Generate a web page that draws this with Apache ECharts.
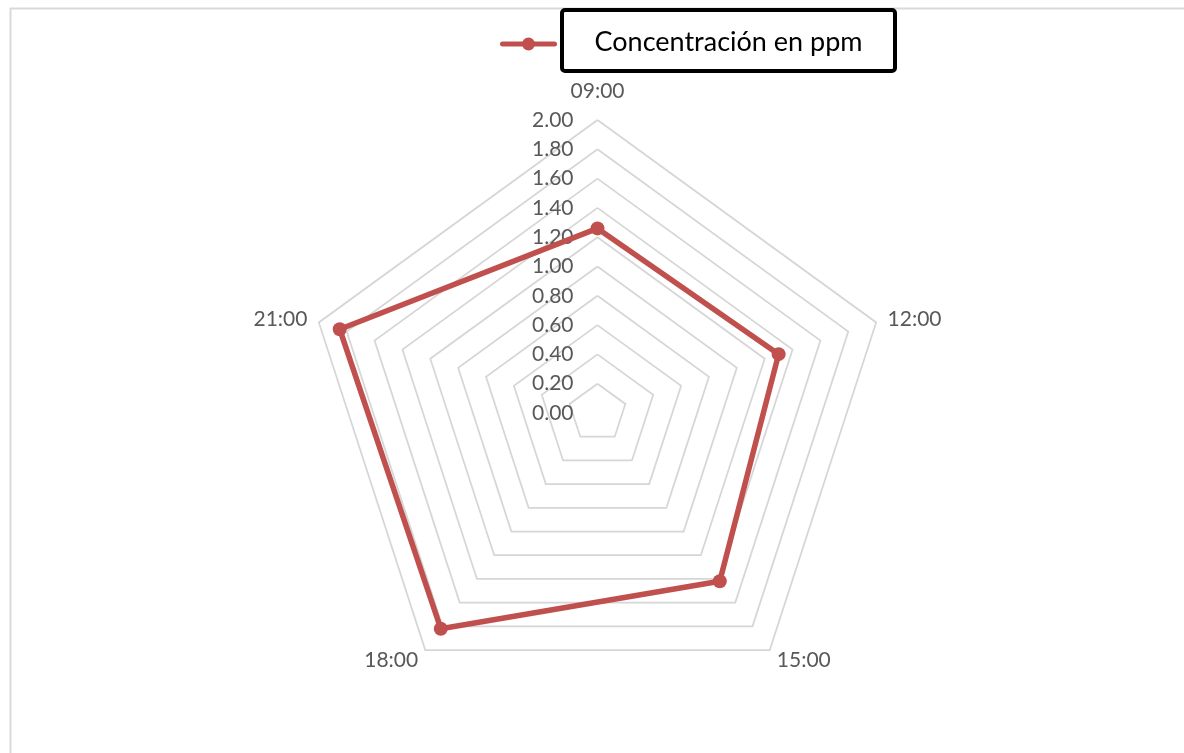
<!DOCTYPE html>
<html>
<head>
<meta charset="utf-8">
<script src="https://cdn.jsdelivr.net/npm/echarts@6/dist/echarts.min.js"></script>
<style>
  html, body { margin: 0; padding: 0; background: #ffffff; }
  #chart { width: 1184px; height: 753px; }
</style>
</head>
<body>
<div id="chart"></div>
<script>
// Hours of the day (clockwise from the top) and the measured concentration
const categories = ['09:00', '12:00', '15:00', '18:00', '21:00'];
const concentration = [1.26, 1.30, 1.42, 1.82, 1.85];
const seriesName = 'Concentración en ppm';

// Value scale shared by the radar rings and the tick labels
const axisMin = 0;
const axisMax = 2;
const axisStep = 0.2;

const FONT = 'Lato, "Open Sans", sans-serif';
const RED = '#c0504d';
const GREY_TEXT = '#595959';

// ECharts lays radar axes out counter-clockwise, so keep the first axis on top
// and walk the remaining ones backwards to get a clockwise dial.
const order = [0].concat(categories.map((_, i) => i).slice(1).reverse());
const indicators = order.map(i => ({ name: categories[i], min: axisMin, max: axisMax }));
const radarValues = order.map(i => concentration[i]);

const center = [597.5, 413];
const radius = 293;

// Legend key and framed caption, drawn as decoration at the top
const legendKeyY = 44;
const legendGraphic = {
  type: 'group',
  silent: true,
  children: [
    {
      type: 'line',
      shape: { x1: 502.5, y1: legendKeyY, x2: 554.5, y2: legendKeyY },
      style: { stroke: RED, lineWidth: 5, lineCap: 'round' }
    },
    {
      type: 'circle',
      shape: { cx: 528.5, cy: legendKeyY, r: 6.5 },
      style: { fill: RED }
    },
    {
      type: 'rect',
      shape: { x: 562, y: 10, width: 333, height: 61, r: 3 },
      style: { fill: '#ffffff', stroke: '#000000', lineWidth: 4 }
    },
    {
      type: 'text',
      x: 728.5, y: 42,
      style: {
        text: seriesName,
        fill: '#000000',
        font: '27px ' + FONT,
        align: 'center',
        verticalAlign: 'middle'
      }
    }
  ]
};

const chart = echarts.init(document.getElementById('chart'), null, { renderer: 'canvas' });

chart.setOption({
  backgroundColor: '#ffffff',
  animation: false,
  graphic: [
    {
      type: 'rect',
      left: 8, top: 6,
      shape: { width: 1200, height: 800 },
      style: { fill: 'none', stroke: '#d9d9d9', lineWidth: 2 },
      silent: true
    },
    legendGraphic
  ],
  radar: {
    center: center,
    radius: radius,
    startAngle: 90,
    shape: 'polygon',
    splitNumber: Math.round((axisMax - axisMin) / axisStep),
    indicator: indicators,
    nameGap: 12,
    axisName: {
      color: GREY_TEXT,
      fontFamily: FONT,
      fontSize: 21,
      verticalAlign: 'middle',
      formatter: function (name) {
        return name === categories[0] ? '{top|' + name + '}' : name;
      },
      rich: {
        top: {
          color: GREY_TEXT,
          fontFamily: FONT,
          fontSize: 21,
          padding: [0, 0, 34, 0]
        }
      }
    },
    axisLine: { show: false },
    axisTick: { show: false },
    axisLabel: { show: false },
    splitArea: { show: false },
    splitLine: { lineStyle: { color: '#d6d6d6', width: 1.75 } }
  },
  // Invisible vertical value axis along the top spoke, carrying the ring labels
  grid: {
    left: center[0],
    top: center[1] - radius,
    width: 1,
    height: radius,
    containLabel: false
  },
  xAxis: {
    type: 'value',
    show: false,
    min: 0,
    max: 1
  },
  yAxis: {
    type: 'value',
    min: axisMin,
    max: axisMax,
    interval: axisStep,
    axisLine: { show: false },
    axisTick: { show: false },
    splitLine: { show: false },
    axisLabel: {
      margin: 24,
      color: GREY_TEXT,
      fontFamily: FONT,
      fontSize: 21,
      formatter: v => v.toFixed(2)
    }
  },
  series: [{
    name: seriesName,
    type: 'radar',
    symbol: 'circle',
    symbolSize: 14,
    lineStyle: { color: RED, width: 5.5 },
    itemStyle: { color: RED },
    data: [{ name: seriesName, value: radarValues }]
  }]
});
</script>
</body>
</html>
